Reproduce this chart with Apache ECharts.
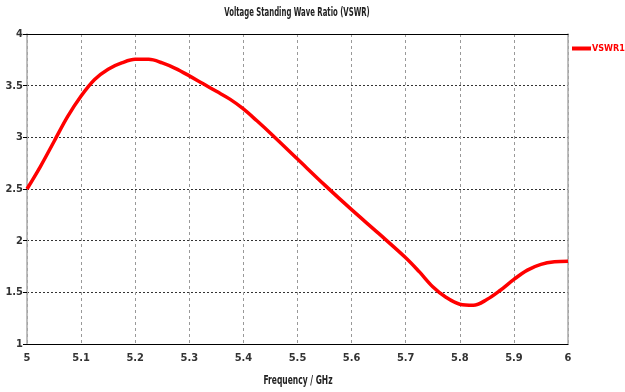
<!DOCTYPE html>
<html>
<head>
<meta charset="utf-8">
<script src="https://cdn.jsdelivr.net/npm/echarts@6/dist/echarts.min.js"></script>
<style>
html,body{margin:0;padding:0;background:#fff;}
#c{width:625px;height:392px;}
</style>
</head>
<body>
<div id="c"></div>
<script>
var freq = [5.000,5.025,5.050,5.075,5.100,5.125,5.150,5.175,5.200,5.225,5.250,5.275,5.300,5.325,5.350,5.375,5.400,5.425,5.450,5.500,5.550,5.600,5.650,5.700,5.725,5.750,5.775,5.800,5.825,5.850,5.875,5.900,5.925,5.950,5.975,6.000];
var vswr = [2.50, 2.72, 2.96, 3.20, 3.40, 3.56, 3.66, 3.72, 3.755,3.755,3.72, 3.665,3.595,3.52, 3.445,3.37, 3.275,3.16, 3.04, 2.79, 2.54, 2.30, 2.07, 1.835,1.70, 1.555,1.45, 1.385,1.375,1.43, 1.52, 1.625,1.715,1.77, 1.795,1.80];
var xTicks = [5,5.1,5.2,5.3,5.4,5.5,5.6,5.7,5.8,5.9,6];
var yTicks = [1,1.5,2,2.5,3,3.5,4];
var seriesName = 'VSWR1';
var titleText = 'Voltage Standing Wave Ratio (VSWR)';
var xName = 'Frequency / GHz';

var FONT = '"DejaVu Sans Condensed","Liberation Sans Narrow",sans-serif';
var chart = echarts.init(document.getElementById('c'));
var pts = freq.map(function(f,i){return [f, vswr[i]];});
function fmt(v){ return String(Number(v.toFixed(1))); }
chart.setOption({
  animation:false,
  backgroundColor:'#fff',
  graphic:[
    {type:'text', x:297, y:7, scaleX:0.64, style:{text:titleText, x:0, y:0, align:'center', verticalAlign:'top',
      fontFamily:FONT, fontSize:12, fontWeight:'bold', fill:'#222'}},
    {type:'text', x:298, y:375, scaleX:0.7, style:{text:xName, x:0, y:0, align:'center', verticalAlign:'top',
      fontFamily:FONT, fontSize:12, fontWeight:'bold', fill:'#222'}}
  ],
  legend:{data:[seriesName], left:572, top:44, padding:0, icon:'rect', itemWidth:19, itemHeight:4, itemGap:4,
    textStyle:{fontFamily:FONT, fontSize:9, fontWeight:'bold', color:'#ff0000', padding:[0,0,0,-4]}},
  grid:{left:27, right:57, top:34, bottom:48},
  xAxis:[{type:'value', min:xTicks[0], max:xTicks[xTicks.length-1], interval:0.1,
    axisLine:{lineStyle:{color:'#000', width:1.2}}, axisTick:{show:false},
    axisLabel:{formatter:fmt, fontFamily:FONT, fontSize:11, fontWeight:'bold', color:'#333', margin:9},
    splitLine:{show:true, lineStyle:{color:'#999', type:[3,3], width:1}}},
   {type:'value', position:'top', min:5, max:6, interval:0.1,
    axisLine:{show:true, lineStyle:{color:'#000', width:1.2}}, axisTick:{show:false}, axisLabel:{show:false}, splitLine:{show:false}}],
  yAxis:[{type:'value', min:yTicks[0], max:yTicks[yTicks.length-1], interval:0.5,
    axisLine:{show:true, lineStyle:{color:'#aaa', width:1.5}},
    axisTick:{show:true, length:4, lineStyle:{color:'#000'}},
    axisLabel:{formatter:fmt, fontFamily:FONT, fontSize:11, fontWeight:'bold', color:'#333', margin:4},
    splitLine:{show:true, lineStyle:{color:'#333', type:[2,2], width:1}}},
   {type:'value', position:'right', min:1, max:4, interval:0.5,
    axisLine:{show:true, lineStyle:{color:'#aaa', width:1.5}}, axisTick:{show:false}, axisLabel:{show:false}, splitLine:{show:false}}],
  series:[{name:seriesName, type:'line', data:pts, smooth:0.35, showSymbol:false,
    lineStyle:{color:'#ff0000', width:3.5}, itemStyle:{color:'#ff0000'}}]
});
</script>
</body>
</html>
